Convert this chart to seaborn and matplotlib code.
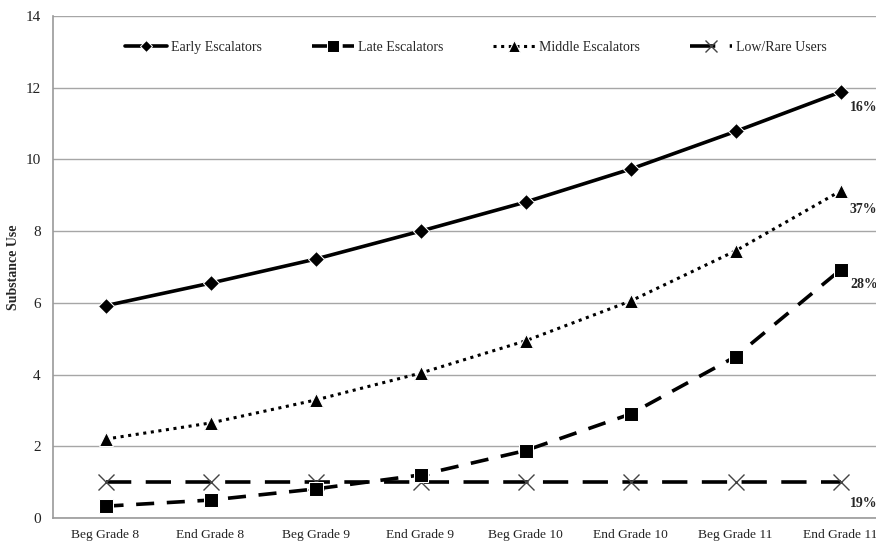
import matplotlib
matplotlib.use("Agg")
import matplotlib.pyplot as plt
import seaborn as sns
import numpy as np

sns.set_theme(style="white")
plt.rcParams['font.family'] = ['Liberation Serif', 'DejaVu Serif']

# data
grades = ['Beg Grade 8', 'End Grade 8', 'Beg Grade 9', 'End Grade 9',
          'Beg Grade 10', 'End Grade 10', 'Beg Grade 11', 'End Grade 11']
early = [5.92, 6.55, 7.22, 8.0, 8.81, 9.73, 10.78, 11.88]
late = [0.33, 0.5, 0.81, 1.2, 1.88, 2.9, 4.5, 6.92]
middle = [2.2, 2.65, 3.29, 4.04, 4.94, 6.05, 7.45, 9.12]
low = [1.0, 1.0, 1.0, 1.0, 1.0, 1.0, 1.0, 1.0]
pct_labels = ['16%', '37%', '28%', '19%']

xpos = np.arange(len(grades))

fig = plt.figure(figsize=(8.76, 5.41), dpi=100)
ax = fig.add_axes([53 / 876, 23 / 541, 840 / 876, 502 / 541])

sns.lineplot(x=xpos, y=early, ax=ax, color='black', lw=2.6, marker='D',
             markersize=8, label='Early Escalators')
sns.lineplot(x=xpos, y=late, ax=ax, color='black', lw=2.6, marker='s',
             markersize=10, label='Late Escalators')
sns.lineplot(x=xpos, y=middle, ax=ax, color='black', lw=2.2, marker='^',
             markersize=10, label='Middle Escalators')
sns.lineplot(x=xpos, y=low, ax=ax, color='black', lw=2.6, marker='x',
             markersize=11, markeredgewidth=1.0, markeredgecolor='#444444',
             label='Low/Rare Users')

lines = ax.get_lines()
lines[1].set_dashes([5, 3.5])
lines[2].set_dashes([1, 1.5])
lines[3].set_dashes([7, 4])
lines[3].set_zorder(1)

ax.set_xlim(-0.5, 7.5)
ax.set_ylim(0, 14)
ax.set_yticks(range(0, 15, 2))
ax.set_xticks(xpos)
ax.set_xticklabels(grades, fontsize=9.7)
ax.set_xticks(np.arange(-0.5, 8, 1), minor=True)
ax.tick_params(axis='x', which='major', length=0, pad=8, colors='#222222')
ax.tick_params(axis='x', which='minor', length=4, color='#999999', width=1, direction='out')
ax.tick_params(axis='y', length=4, color='#999999', width=1, direction='out',
               labelsize=11, labelcolor='#222222', pad=5)
ax.yaxis.grid(True, color='#a6a6a6', lw=1)
ax.set_axisbelow(True)
for s in ['top', 'right']:
    ax.spines[s].set_visible(False)
for s in ['left', 'bottom']:
    ax.spines[s].set_color('#999999')
    ax.spines[s].set_linewidth(1.2)

ax.set_ylabel('Substance Use', fontsize=10, fontweight='bold', labelpad=4)

# end-of-line percentages
ends = [early[-1], middle[-1], late[-1], low[-1]]
offs = [-0.42, -0.53, -0.4, -0.59]
for lab, yv, o in zip(pct_labels, ends, offs):
    ax.text(7.09, yv + o, lab, fontsize=10, fontweight='bold', va='center',
            ha='left', clip_on=False)

ax.legend(loc='center', bbox_to_anchor=(0.5036, 0.938), ncol=4, frameon=False,
          fontsize=10, handlelength=3.0, columnspacing=3.6, handletextpad=0.3,
          markerscale=0.8)

fig.savefig('out.png', dpi=100)
